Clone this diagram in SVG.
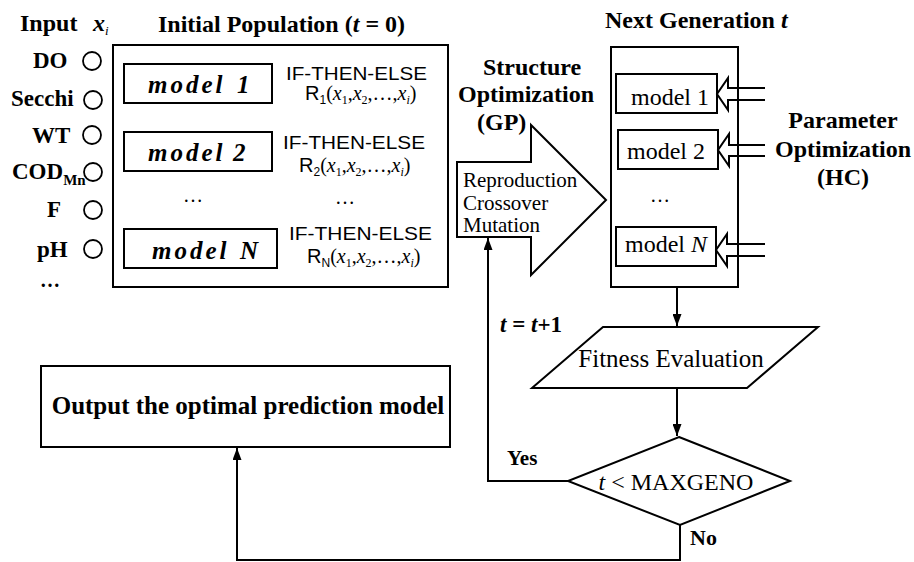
<svg xmlns="http://www.w3.org/2000/svg" width="914" height="562" viewBox="0 0 914 562">
<defs>
<marker id="ah" viewBox="0 0 12 9" refX="12" refY="4.5" markerWidth="12" markerHeight="9" markerUnits="userSpaceOnUse" orient="auto">
<path d="M0,0 L12,4.5 L0,9 z" fill="#000"/>
</marker>
</defs>
<style>
.ln{fill:none;stroke:#000;stroke-width:2}
.bx{fill:#fff;stroke:#000;stroke-width:2}
.cir{fill:none;stroke:#000;stroke-width:1.8}
.sb{font-family:"Liberation Serif",serif;font-weight:bold;fill:#000}
.sr{font-family:"Liberation Serif",serif;fill:#000}
.mi{font-family:"Liberation Serif",serif;font-weight:bold;font-style:italic;letter-spacing:3px;fill:#000}
.ss{font-family:"Liberation Sans",sans-serif;fill:#000}
.it{font-style:italic}
</style>
<rect width="914" height="562" fill="#fff"/>

<g id="titles" font-size="24">
<text class="sb" x="20" y="31">Input</text>
<text class="sb" x="93" y="31"><tspan class="it">x</tspan><tspan class="it" style="font-size:13px;font-weight:normal" dy="4">i</tspan></text>
<text class="sb" x="158" y="32">Initial Population (<tspan class="it">t</tspan> = 0)</text>
<text class="sb" x="605" y="28">Next Generation <tspan class="it">t</tspan></text>
</g>

<g id="inputs" font-size="23">
<text class="sb" x="33" y="68">DO</text>
<circle class="cir" cx="92" cy="61" r="9"/>
<text class="sb" x="11" y="106">Secchi</text>
<circle class="cir" cx="93" cy="100" r="9"/>
<text class="sb" x="32" y="143">WT</text>
<circle class="cir" cx="92" cy="135" r="9"/>
<text class="sb" x="12" y="179">COD<tspan style="font-size:15px" dy="6">Mn</tspan></text>
<circle class="cir" cx="93" cy="172" r="9"/>
<text class="sb" x="47" y="217">F</text>
<circle class="cir" cx="93" cy="210" r="9"/>
<text class="sb" x="37" y="257">pH</text>
<circle class="cir" cx="93" cy="249" r="9"/>
<text class="sb" x="40" y="287" style="font-size:20px">…</text>
</g>

<g id="initial-population">
<rect class="bx" x="113" y="45" width="335" height="242"/>
<rect class="bx" x="124" y="64" width="148" height="39"/>
<text class="mi" x="148" y="93" font-size="25">model<tspan x="237">1</tspan></text>
<text class="ss" x="286" y="80" font-size="18" textLength="141" lengthAdjust="spacingAndGlyphs">IF-THEN-ELSE</text>
<text class="sr" x="305" y="100" font-size="20"><tspan class="ss">R</tspan><tspan class="ss" style="font-size:12px" dy="4">1</tspan><tspan dy="-4">(</tspan><tspan class="it">x</tspan><tspan style="font-size:12px" dy="4">1</tspan><tspan dy="-4">,</tspan><tspan class="it">x</tspan><tspan style="font-size:12px" dy="4">2</tspan><tspan dy="-4">,…,</tspan><tspan class="it">x</tspan><tspan class="it" style="font-size:12px" dy="4">i</tspan><tspan dy="-4">)</tspan></text>

<rect class="bx" x="124" y="132" width="148" height="39"/>
<text class="mi" x="148" y="161" font-size="25">model<tspan x="233">2</tspan></text>
<text class="ss" x="283" y="149" font-size="18" textLength="142" lengthAdjust="spacingAndGlyphs">IF-THEN-ELSE</text>
<text class="sr" x="299" y="172" font-size="20"><tspan class="ss">R</tspan><tspan class="ss" style="font-size:12px" dy="4">2</tspan><tspan dy="-4">(</tspan><tspan class="it">x</tspan><tspan style="font-size:12px" dy="4">1</tspan><tspan dy="-4">,</tspan><tspan class="it">x</tspan><tspan style="font-size:12px" dy="4">2</tspan><tspan dy="-4">,…,</tspan><tspan class="it">x</tspan><tspan class="it" style="font-size:12px" dy="4">i</tspan><tspan dy="-4">)</tspan></text>

<text class="sr" x="183" y="202" font-size="20">…</text>
<text class="sr" x="335" y="204" font-size="20">…</text>

<rect class="bx" x="124" y="229" width="153" height="39"/>
<text class="mi" x="152" y="259" font-size="25">model<tspan x="240">N</tspan></text>
<text class="ss" x="289" y="240" font-size="18" textLength="143" lengthAdjust="spacingAndGlyphs">IF-THEN-ELSE</text>
<text class="sr" x="307" y="263" font-size="20"><tspan class="ss">R</tspan><tspan class="ss" style="font-size:12px" dy="4">N</tspan><tspan dy="-4">(</tspan><tspan class="it">x</tspan><tspan style="font-size:12px" dy="4">1</tspan><tspan dy="-4">,</tspan><tspan class="it">x</tspan><tspan style="font-size:12px" dy="4">2</tspan><tspan dy="-4">,…,</tspan><tspan class="it">x</tspan><tspan class="it" style="font-size:12px" dy="4">i</tspan><tspan dy="-4">)</tspan></text>
</g>

<g id="structure-optimization">
<text class="sb" x="483" y="75" font-size="24">Structure</text>
<text class="sb" x="458" y="102" font-size="24">Optimization</text>
<text class="sb" x="477" y="130" font-size="24">(GP)</text>
<polygon class="bx" points="457,162 531,162 531,125 606,200 531,275 531,237 457,237"/>
<text class="sr" x="463" y="187" font-size="21">Reproduction</text>
<text class="sr" x="463" y="210" font-size="21">Crossover</text>
<text class="sr" x="463" y="232" font-size="21">Mutation</text>
</g>

<g id="next-generation">
<rect class="bx" x="611" y="47" width="127" height="240"/>
<rect class="bx" x="616" y="74" width="101" height="39"/>
<text class="sr" x="631" y="105" font-size="24">model 1</text>
<rect class="bx" x="618" y="130" width="100" height="39"/>
<text class="sr" x="627" y="159" font-size="24">model 2</text>
<text class="sr" x="650" y="202" font-size="20">…</text>
<rect class="bx" x="616" y="227" width="100" height="39"/>
<text class="sr" x="625" y="252" font-size="24">model <tspan class="it">N</tspan></text>
</g>

<g id="parameter-optimization">
<text class="sb" x="843" y="128" font-size="24" text-anchor="middle">Parameter</text>
<text class="sb" x="843" y="157" font-size="24" text-anchor="middle">Optimization</text>
<text class="sb" x="843" y="185" font-size="24" text-anchor="middle">(HC)</text>
</g>

<g id="fitness-evaluation">
<polygon class="bx" points="603,327 818,327 747,388 532,388"/>
<text class="sr" x="671" y="367" font-size="25" text-anchor="middle">Fitness Evaluation</text>
</g>

<g id="decision">
<polygon class="bx" points="679,437 790,481 680,525 568,481"/>
<text class="sr" x="676" y="490" font-size="24" text-anchor="middle"><tspan class="it">t</tspan> &lt; MAXGENO</text>
</g>

<g id="output">
<rect class="bx" x="41" y="366" width="409" height="81"/>
<text class="sb" x="248" y="414" font-size="25" text-anchor="middle">Output the optimal prediction model</text>
</g>

<g id="connectors">
<path class="ln" d="M677,287 L677,326" marker-end="url(#ah)"/>
<path class="ln" d="M677,388 L677,436" marker-end="url(#ah)"/>
<path class="ln" d="M568,481 L488,481 L488,238" marker-end="url(#ah)"/>
<path class="ln" d="M680,525 L680,560 L237,560 L237,448" marker-end="url(#ah)"/>
<path class="ln" d="M765,88 L728,88 L728,78 L717,94 L728,110 L728,100 L765,100"/>
<path class="ln" d="M765,145 L729,145 L729,134 L718,150 L729,166 L729,156 L765,156"/>
<path class="ln" d="M765,244 L727,244 L727,234 L716,250 L727,266 L727,256 L765,256"/>
<text class="sb" x="500" y="332" font-size="23"><tspan class="it">t</tspan> = <tspan class="it">t</tspan>+1</text>
<text class="sb" x="507" y="465" font-size="21">Yes</text>
<text class="sb" x="690" y="545" font-size="22">No</text>
</g>
</svg>
